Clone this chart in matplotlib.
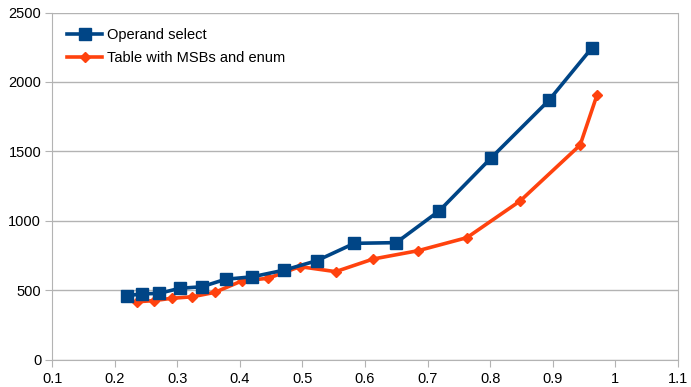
import matplotlib
matplotlib.use("Agg")
import matplotlib.pyplot as plt

plt.rcParams['font.family'] = ['Liberation Sans', 'DejaVu Sans']

op_x = [0.219, 0.243, 0.271, 0.304, 0.339, 0.377, 0.420, 0.471, 0.523, 0.583, 0.650, 0.719, 0.802, 0.894, 0.963]
op_y = [460, 472, 477, 513, 524, 578, 596, 644, 712, 837, 842, 1072, 1454, 1867, 2246]

tb_x = [0.235, 0.262, 0.291, 0.324, 0.360, 0.403, 0.445, 0.496, 0.553, 0.613, 0.685, 0.763, 0.848, 0.944, 0.971]
tb_y = [416, 424, 441, 452, 484, 566, 585, 669, 633, 724, 784, 878, 1142, 1545, 1906]

labels = ["Operand select", "Table with MSBs and enum"]
xticks = [0.1, 0.2, 0.3, 0.4, 0.5, 0.6, 0.7, 0.8, 0.9, 1.0, 1.1]
xticklabels = ["0.1", "0.2", "0.3", "0.4", "0.5", "0.6", "0.7", "0.8", "0.9", "1", "1.1"]
yticks = [0, 500, 1000, 1500, 2000, 2500]

fig = plt.figure(figsize=(6.91, 3.87), dpi=100)
ax = fig.add_axes([52.3/691, (387-359.5)/387, 625.4/691, 347/387])

ax.plot(op_x, op_y, color='#004586', lw=2.6, marker='s', markersize=8.5, label=labels[0], zorder=3)
ax.plot(tb_x, tb_y, color='#ff420e', lw=2.6, marker='D', markersize=5.5, label=labels[1], zorder=2)

ax.set_xlim(0.1, 1.1)
ax.set_ylim(0, 2500)
ax.set_xticks(xticks)
ax.set_xticklabels(xticklabels)
ax.set_yticks(yticks)
ax.grid(axis='y', color='#b3b3b3', lw=1)
ax.set_axisbelow(True)
for s in ['left', 'bottom', 'right']:
    ax.spines[s].set_color('#b3b3b3')
ax.spines['top'].set_visible(False)
ax.tick_params(axis='both', colors='#b3b3b3', labelcolor='black', labelsize=10.5, length=5)
ax.tick_params(axis='x', pad=4)
ax.tick_params(axis='y', pad=3)

leg = ax.legend(loc='upper left', frameon=False, fontsize=10.5, handlelength=2.4,
                bbox_to_anchor=(0.003, 0.993), labelspacing=0.62, handletextpad=0.32)

fig.savefig("out.png", dpi=100)
